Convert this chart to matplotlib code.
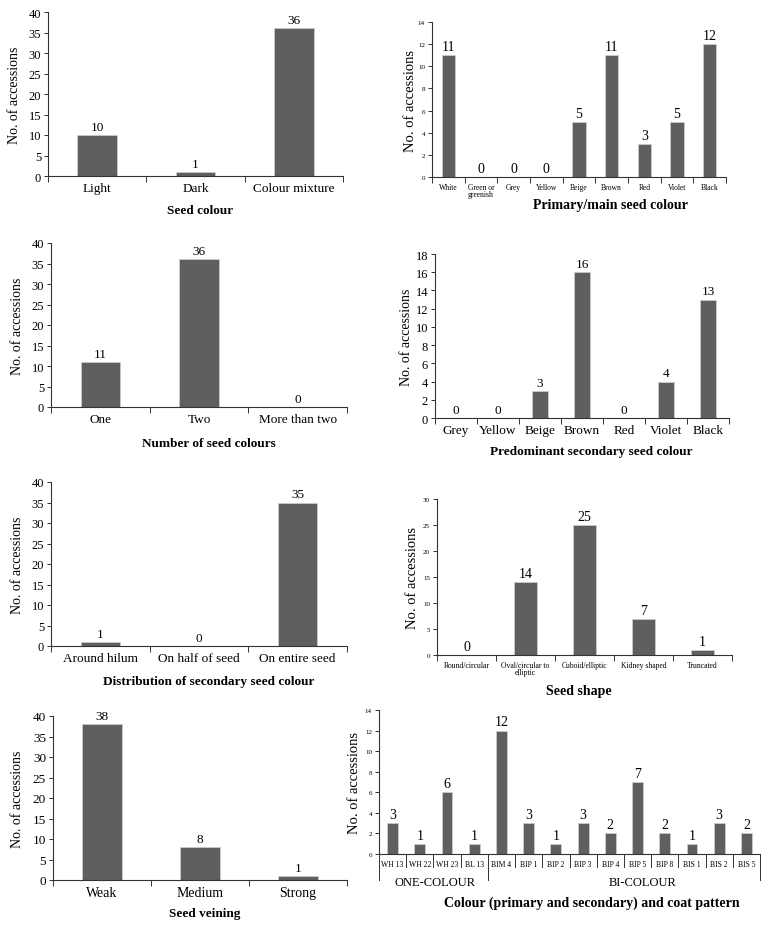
"""
seed trait bar charts (8 panels) rebuilt with matplotlib
"""

import matplotlib
matplotlib.use("Agg")
import matplotlib.pyplot as plt
from matplotlib.transforms import blended_transform_factory

W, H = 769, 928
plt.rcParams['font.family'] = ['Liberation Serif', 'DejaVu Serif']

BAR_COLOR = '#5f5f5f'
AXIS_COLOR = '#333333'

# ---- data ----
seed_colour_cats = ['Light', 'Dark', 'Colour mixture']
seed_colour_vals = [10, 1, 36]

primary_cats = ['White', 'Green or\ngreenish', 'Grey', 'Yellow', 'Beige',
                'Brown', 'Red', 'Violet', 'Black']
primary_vals = [11, 0, 0, 0, 5, 11, 3, 5, 12]

n_colours_cats = ['One', 'Two', 'More than two']
n_colours_vals = [11, 36, 0]

secondary_cats = ['Grey', 'Yellow', 'Beige', 'Brown', 'Red', 'Violet', 'Black']
secondary_vals = [0, 0, 3, 16, 0, 4, 13]

distribution_cats = ['Around hilum', 'On half of seed', 'On entire seed']
distribution_vals = [1, 0, 35]

shape_cats = ['Round/circular', 'Oval/circular to\nelliptic', 'Cuboid/elliptic',
              'Kidney shaped', 'Truncated']
shape_vals = [0, 14, 25, 7, 1]

veining_cats = ['Weak', 'Medium', 'Strong']
veining_vals = [38, 8, 1]

pattern_cats = ['WH 13', 'WH 22', 'WH 23', 'BL 13', 'BIM 4', 'BIP 1', 'BIP 2',
                'BIP 3', 'BIP 4', 'BIP 5', 'BIP 8', 'BIS 1', 'BIS 2', 'BIS 5']
pattern_vals = [3, 1, 6, 1, 12, 3, 1, 3, 2, 7, 2, 1, 3, 2]
pattern_groups = ['ONE-COLOUR', 'BI-COLOUR']
pattern_group_bounds = [0, 4, 14]

fig = plt.figure(figsize=(W / 100, H / 100), dpi=100)


def fx(x):
    return x / W


def fy(y):
    return 1 - y / H


def bar_panel(box, cats, vals, ymax, ystep, ylabel_x, title, title_xy, sizes):
    """
    box - (left, right, top, bottom) of the plot area in pixels
    sizes - (ytick, xtick, value, ylabel, title) font sizes
    """
    left, right, top, bottom = box
    ytick_fs, xtick_fs, val_fs, ylab_fs, title_fs = sizes
    ax = fig.add_axes([fx(left), fy(bottom), (right - left) / W, (bottom - top) / H])
    n = len(cats)
    xs = list(range(n))
    ax.bar(xs, vals, width=0.4, color=BAR_COLOR, edgecolor='#d0d0d0', linewidth=0.5)
    for x, v in zip(xs, vals):
        ax.annotate(str(v), (x, v), xytext=(0, 1.5), textcoords='offset points',
                    ha='center', va='bottom', fontsize=val_fs)
    ax.set_xlim(-0.5, n - 0.5)
    ax.set_ylim(0, ymax)
    ax.set_yticks(range(0, ymax + 1, ystep))
    ax.set_xticks(xs)
    ax.set_xticklabels(cats, fontsize=xtick_fs, linespacing=0.95)
    ax.set_xticks([i - 0.5 for i in range(n + 1)], minor=True)
    ax.tick_params(axis='x', which='major', length=0, pad=4)
    ax.tick_params(axis='x', which='minor', length=4, width=0.7, color=AXIS_COLOR)
    ax.tick_params(axis='y', length=3, width=0.7, color=AXIS_COLOR,
                   labelsize=ytick_fs, pad=2)
    for s in ['top', 'right']:
        ax.spines[s].set_visible(False)
    for s in ['left', 'bottom']:
        ax.spines[s].set_color(AXIS_COLOR)
        ax.spines[s].set_linewidth(0.8)
    fig.text(fx(ylabel_x), fy((top + bottom) / 2), 'No. of accessions',
             rotation=90, ha='center', va='center', fontsize=ylab_fs)
    fig.text(fx(title_xy[0]), fy(title_xy[1]), title, ha='center', va='center',
             fontsize=title_fs, fontweight='bold')
    return ax


big = (9, 9.5, 9.5, 10, 9.5)
small = (5, 5.5, 10, 10.5, 10)

bar_panel((48, 343, 13, 177), seed_colour_cats, seed_colour_vals, 40, 5,
          15, 'Seed colour', (200, 211), big)
bar_panel((432, 726, 23, 178), primary_cats, primary_vals, 14, 2,
          410, 'Primary/main seed colour', (610, 206), small)
bar_panel((51, 347, 244, 408), n_colours_cats, n_colours_vals, 40, 5,
          18, 'Number of seed colours', (209, 444), big)
bar_panel((435, 729, 255, 419), secondary_cats, secondary_vals, 18, 2,
          407, 'Predominant secondary seed colour', (591, 452), big)
bar_panel((51, 347, 483, 647), distribution_cats, distribution_vals, 40, 5,
          18, 'Distribution of secondary seed colour', (209, 682), big)
bar_panel((437, 732, 500, 656), shape_cats, shape_vals, 30, 5,
          412, 'Seed shape', (579, 692), small)
bar_panel((53, 347, 717, 881), veining_cats, veining_vals, 40, 5,
          18, 'Seed veining', (205, 914), (9.5, 10, 9.5, 10, 9.5))
ax8 = bar_panel((379, 760, 711, 855), pattern_cats, pattern_vals, 14, 2,
                355, 'Colour (primary and secondary) and coat pattern', (592, 903), small)

# multi-level category axis for the coat pattern panel
ax8.tick_params(axis='x', which='minor', length=0)
trans = blended_transform_factory(ax8.transData, ax8.transAxes)
for i in range(len(pattern_cats) + 1):
    depth = -0.18 if i in pattern_group_bounds else -0.09
    ax8.plot([i - 0.5, i - 0.5], [0, depth], color=AXIS_COLOR, lw=0.7,
             transform=trans, clip_on=False)
group_x = [1.55, 9.2]
for name, gx in zip(pattern_groups, group_x):
    ax8.text(gx, -0.195, name, transform=trans, ha='center', va='center', fontsize=9)

fig.savefig('out.png', dpi=100)
